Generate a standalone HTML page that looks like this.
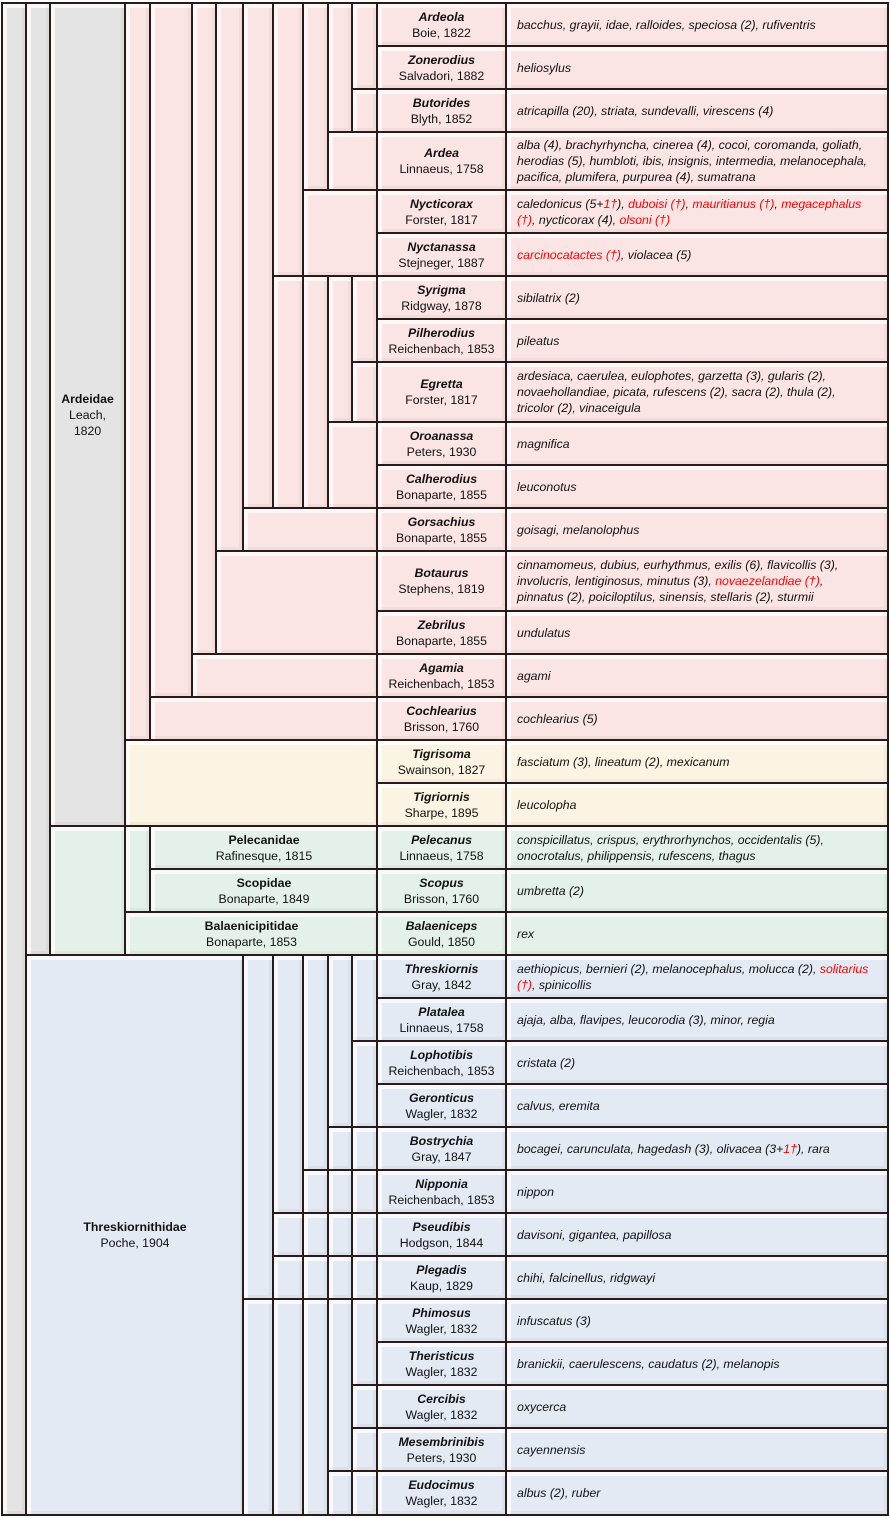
<!DOCTYPE html>
<html><head><meta charset="utf-8"><style>
body{margin:0;width:890px;height:1518px;background:#fff;position:relative;overflow:hidden;font-family:"Liberation Sans",sans-serif;}
.b{position:absolute;box-sizing:border-box;border:2px solid #2a1a1a;box-shadow:inset 4px 4px 0 rgba(255,255,255,.7),inset -3px -3px 0 rgba(0,0,0,.035);}
.g{background:#e4e4e4}.p{background:#fbe4e4}.c{background:#fcf4e2}.n{background:#e4f1e8}.l{background:#e3eaf3}
.t{display:flex;flex-direction:column;align-items:center;justify-content:center;text-align:center;font-size:12.3px;line-height:16px;color:#111}
.t i{font-weight:bold}
.s{display:flex;align-items:center;padding-left:10px;font-size:12.3px;line-height:16px;font-style:italic;color:#111;white-space:nowrap;letter-spacing:0}
.r{color:#f00}
</style></head><body>
<div class="b g" style="left:1px;top:2px;width:26px;height:1514px"></div>
<div class="b g" style="left:25px;top:2px;width:26px;height:954px"></div>
<div class="b g t" style="left:49px;top:2px;width:77px;height:825px"><b>Ardeidae</b><span>Leach,</span><span>1820</span></div>
<div class="b n" style="left:49px;top:825px;width:77px;height:131px"></div>
<div class="b p" style="left:124px;top:2px;width:27px;height:739px"></div>
<div class="b c" style="left:124px;top:739px;width:255px;height:88px"></div>
<div class="b p" style="left:149px;top:2px;width:44px;height:696px"></div>
<div class="b p" style="left:149px;top:696px;width:230px;height:45px"></div>
<div class="b p" style="left:191px;top:2px;width:26px;height:653px"></div>
<div class="b p" style="left:191px;top:653px;width:188px;height:45px"></div>
<div class="b p" style="left:215px;top:2px;width:29px;height:550px"></div>
<div class="b p" style="left:215px;top:550px;width:164px;height:105px"></div>
<div class="b p" style="left:242px;top:2px;width:32px;height:507px"></div>
<div class="b p" style="left:242px;top:507px;width:137px;height:45px"></div>
<div class="b p" style="left:272px;top:2px;width:32px;height:275px"></div>
<div class="b p" style="left:272px;top:275px;width:32px;height:234px"></div>
<div class="b p" style="left:302px;top:2px;width:27px;height:189px"></div>
<div class="b p" style="left:302px;top:189px;width:77px;height:88px"></div>
<div class="b p" style="left:302px;top:275px;width:27px;height:234px"></div>
<div class="b p" style="left:327px;top:2px;width:26px;height:131px"></div>
<div class="b p" style="left:327px;top:131px;width:52px;height:60px"></div>
<div class="b p" style="left:327px;top:275px;width:26px;height:148px"></div>
<div class="b p" style="left:327px;top:421px;width:52px;height:88px"></div>
<div class="b p" style="left:351px;top:2px;width:27px;height:88px"></div>
<div class="b p" style="left:351px;top:88px;width:27px;height:45px"></div>
<div class="b p" style="left:351px;top:275px;width:27px;height:88px"></div>
<div class="b p" style="left:351px;top:361px;width:27px;height:62px"></div>
<div class="b n" style="left:124px;top:825px;width:27px;height:88px"></div>
<div class="b n t" style="left:149px;top:825px;width:230px;height:45px"><b>Pelecanidae</b><span>Rafinesque, 1815</span></div>
<div class="b n t" style="left:149px;top:868px;width:230px;height:45px"><b>Scopidae</b><span>Bonaparte, 1849</span></div>
<div class="b n t" style="left:124px;top:911px;width:255px;height:45px"><b>Balaenicipitidae</b><span>Bonaparte, 1853</span></div>
<div class="b l t" style="left:25px;top:954px;width:220px;height:562px"><b>Threskiornithidae</b><span>Poche, 1904</span></div>
<div class="b l" style="left:242px;top:954px;width:32px;height:346px"></div>
<div class="b l" style="left:242px;top:1298px;width:32px;height:218px"></div>
<div class="b l" style="left:272px;top:954px;width:32px;height:260px"></div>
<div class="b l" style="left:272px;top:1212px;width:32px;height:45px"></div>
<div class="b l" style="left:272px;top:1255px;width:32px;height:45px"></div>
<div class="b l" style="left:272px;top:1298px;width:32px;height:218px"></div>
<div class="b l" style="left:302px;top:954px;width:27px;height:217px"></div>
<div class="b l" style="left:302px;top:1169px;width:27px;height:45px"></div>
<div class="b l" style="left:302px;top:1212px;width:27px;height:45px"></div>
<div class="b l" style="left:302px;top:1255px;width:27px;height:45px"></div>
<div class="b l" style="left:302px;top:1298px;width:27px;height:218px"></div>
<div class="b l" style="left:327px;top:954px;width:26px;height:174px"></div>
<div class="b l" style="left:327px;top:1126px;width:26px;height:45px"></div>
<div class="b l" style="left:327px;top:1169px;width:26px;height:45px"></div>
<div class="b l" style="left:327px;top:1212px;width:26px;height:45px"></div>
<div class="b l" style="left:327px;top:1255px;width:26px;height:45px"></div>
<div class="b l" style="left:327px;top:1298px;width:26px;height:174px"></div>
<div class="b l" style="left:327px;top:1470px;width:26px;height:46px"></div>
<div class="b l" style="left:351px;top:954px;width:27px;height:88px"></div>
<div class="b l" style="left:351px;top:1040px;width:27px;height:88px"></div>
<div class="b l" style="left:351px;top:1126px;width:27px;height:45px"></div>
<div class="b l" style="left:351px;top:1169px;width:27px;height:45px"></div>
<div class="b l" style="left:351px;top:1212px;width:27px;height:45px"></div>
<div class="b l" style="left:351px;top:1255px;width:27px;height:45px"></div>
<div class="b l" style="left:351px;top:1298px;width:27px;height:88px"></div>
<div class="b l" style="left:351px;top:1384px;width:27px;height:45px"></div>
<div class="b l" style="left:351px;top:1427px;width:27px;height:45px"></div>
<div class="b l" style="left:351px;top:1470px;width:27px;height:46px"></div>

<div class="b p t" style="left:376px;top:2px;width:131px;height:45px"><i>Ardeola</i><span>Boie, 1822</span></div>
<div class="b p s" style="left:505px;top:2px;width:384px;height:45px">bacchus, grayii, idae, ralloides, speciosa (2), rufiventris</div>
<div class="b p t" style="left:376px;top:45px;width:131px;height:45px"><i>Zonerodius</i><span>Salvadori, 1882</span></div>
<div class="b p s" style="left:505px;top:45px;width:384px;height:45px">heliosylus</div>
<div class="b p t" style="left:376px;top:88px;width:131px;height:45px"><i>Butorides</i><span>Blyth, 1852</span></div>
<div class="b p s" style="left:505px;top:88px;width:384px;height:45px">atricapilla (20), striata, sundevalli, virescens (4)</div>
<div class="b p t" style="left:376px;top:131px;width:131px;height:60px"><i>Ardea</i><span>Linnaeus, 1758</span></div>
<div class="b p s" style="left:505px;top:131px;width:384px;height:60px"><span>alba (4), brachyrhyncha, cinerea (4), cocoi, coromanda, goliath,<br>herodias (5), humbloti, ibis, insignis, intermedia, melanocephala,<br>pacifica, plumifera, purpurea (4), sumatrana</span></div>
<div class="b p t" style="left:376px;top:189px;width:131px;height:45px"><i>Nycticorax</i><span>Forster, 1817</span></div>
<div class="b p s" style="left:505px;top:189px;width:384px;height:45px"><span>caledonicus (5+<span class="r">1†</span>), <span class="r">duboisi (†)</span>, <span class="r">mauritianus (†)</span>, <span class="r">megacephalus</span><br><span class="r">(†)</span>, nycticorax (4), <span class="r">olsoni (†)</span></span></div>
<div class="b p t" style="left:376px;top:232px;width:131px;height:45px"><i>Nyctanassa</i><span>Stejneger, 1887</span></div>
<div class="b p s" style="left:505px;top:232px;width:384px;height:45px"><span><span class="r">carcinocatactes (†)</span>, violacea (5)</span></div>
<div class="b p t" style="left:376px;top:275px;width:131px;height:45px"><i>Syrigma</i><span>Ridgway, 1878</span></div>
<div class="b p s" style="left:505px;top:275px;width:384px;height:45px">sibilatrix (2)</div>
<div class="b p t" style="left:376px;top:318px;width:131px;height:45px"><i>Pilherodius</i><span>Reichenbach, 1853</span></div>
<div class="b p s" style="left:505px;top:318px;width:384px;height:45px">pileatus</div>
<div class="b p t" style="left:376px;top:361px;width:131px;height:62px"><i>Egretta</i><span>Forster, 1817</span></div>
<div class="b p s" style="left:505px;top:361px;width:384px;height:62px"><span>ardesiaca, caerulea, eulophotes, garzetta (3), gularis (2),<br>novaehollandiae, picata, rufescens (2), sacra (2), thula (2),<br>tricolor (2), vinaceigula</span></div>
<div class="b p t" style="left:376px;top:421px;width:131px;height:45px"><i>Oroanassa</i><span>Peters, 1930</span></div>
<div class="b p s" style="left:505px;top:421px;width:384px;height:45px">magnifica</div>
<div class="b p t" style="left:376px;top:464px;width:131px;height:45px"><i>Calherodius</i><span>Bonaparte, 1855</span></div>
<div class="b p s" style="left:505px;top:464px;width:384px;height:45px">leuconotus</div>
<div class="b p t" style="left:376px;top:507px;width:131px;height:45px"><i>Gorsachius</i><span>Bonaparte, 1855</span></div>
<div class="b p s" style="left:505px;top:507px;width:384px;height:45px">goisagi, melanolophus</div>
<div class="b p t" style="left:376px;top:550px;width:131px;height:62px"><i>Botaurus</i><span>Stephens, 1819</span></div>
<div class="b p s" style="left:505px;top:550px;width:384px;height:62px"><span>cinnamomeus, dubius, eurhythmus, exilis (6), flavicollis (3),<br>involucris, lentiginosus, minutus (3), <span class="r">novaezelandiae (†)</span>,<br>pinnatus (2), poiciloptilus, sinensis, stellaris (2), sturmii</span></div>
<div class="b p t" style="left:376px;top:610px;width:131px;height:45px"><i>Zebrilus</i><span>Bonaparte, 1855</span></div>
<div class="b p s" style="left:505px;top:610px;width:384px;height:45px">undulatus</div>
<div class="b p t" style="left:376px;top:653px;width:131px;height:45px"><i>Agamia</i><span>Reichenbach, 1853</span></div>
<div class="b p s" style="left:505px;top:653px;width:384px;height:45px">agami</div>
<div class="b p t" style="left:376px;top:696px;width:131px;height:45px"><i>Cochlearius</i><span>Brisson, 1760</span></div>
<div class="b p s" style="left:505px;top:696px;width:384px;height:45px">cochlearius (5)</div>
<div class="b c t" style="left:376px;top:739px;width:131px;height:45px"><i>Tigrisoma</i><span>Swainson, 1827</span></div>
<div class="b c s" style="left:505px;top:739px;width:384px;height:45px">fasciatum (3), lineatum (2), mexicanum</div>
<div class="b c t" style="left:376px;top:782px;width:131px;height:45px"><i>Tigriornis</i><span>Sharpe, 1895</span></div>
<div class="b c s" style="left:505px;top:782px;width:384px;height:45px">leucolopha</div>
<div class="b n t" style="left:376px;top:825px;width:131px;height:45px"><i>Pelecanus</i><span>Linnaeus, 1758</span></div>
<div class="b n s" style="left:505px;top:825px;width:384px;height:45px"><span>conspicillatus, crispus, erythrorhynchos, occidentalis (5),<br>onocrotalus, philippensis, rufescens, thagus</span></div>
<div class="b n t" style="left:376px;top:868px;width:131px;height:45px"><i>Scopus</i><span>Brisson, 1760</span></div>
<div class="b n s" style="left:505px;top:868px;width:384px;height:45px">umbretta (2)</div>
<div class="b n t" style="left:376px;top:911px;width:131px;height:45px"><i>Balaeniceps</i><span>Gould, 1850</span></div>
<div class="b n s" style="left:505px;top:911px;width:384px;height:45px">rex</div>
<div class="b l t" style="left:376px;top:954px;width:131px;height:45px"><i>Threskiornis</i><span>Gray, 1842</span></div>
<div class="b l s" style="left:505px;top:954px;width:384px;height:45px"><span>aethiopicus, bernieri (2), melanocephalus, molucca (2), <span class="r">solitarius</span><br><span class="r">(†)</span>, spinicollis</span></div>
<div class="b l t" style="left:376px;top:997px;width:131px;height:45px"><i>Platalea</i><span>Linnaeus, 1758</span></div>
<div class="b l s" style="left:505px;top:997px;width:384px;height:45px">ajaja, alba, flavipes, leucorodia (3), minor, regia</div>
<div class="b l t" style="left:376px;top:1040px;width:131px;height:45px"><i>Lophotibis</i><span>Reichenbach, 1853</span></div>
<div class="b l s" style="left:505px;top:1040px;width:384px;height:45px">cristata (2)</div>
<div class="b l t" style="left:376px;top:1083px;width:131px;height:45px"><i>Geronticus</i><span>Wagler, 1832</span></div>
<div class="b l s" style="left:505px;top:1083px;width:384px;height:45px">calvus, eremita</div>
<div class="b l t" style="left:376px;top:1126px;width:131px;height:45px"><i>Bostrychia</i><span>Gray, 1847</span></div>
<div class="b l s" style="left:505px;top:1126px;width:384px;height:45px"><span>bocagei, carunculata, hagedash (3), olivacea (3+<span class="r">1†</span>), rara</span></div>
<div class="b l t" style="left:376px;top:1169px;width:131px;height:45px"><i>Nipponia</i><span>Reichenbach, 1853</span></div>
<div class="b l s" style="left:505px;top:1169px;width:384px;height:45px">nippon</div>
<div class="b l t" style="left:376px;top:1212px;width:131px;height:45px"><i>Pseudibis</i><span>Hodgson, 1844</span></div>
<div class="b l s" style="left:505px;top:1212px;width:384px;height:45px">davisoni, gigantea, papillosa</div>
<div class="b l t" style="left:376px;top:1255px;width:131px;height:45px"><i>Plegadis</i><span>Kaup, 1829</span></div>
<div class="b l s" style="left:505px;top:1255px;width:384px;height:45px">chihi, falcinellus, ridgwayi</div>
<div class="b l t" style="left:376px;top:1298px;width:131px;height:45px"><i>Phimosus</i><span>Wagler, 1832</span></div>
<div class="b l s" style="left:505px;top:1298px;width:384px;height:45px">infuscatus (3)</div>
<div class="b l t" style="left:376px;top:1341px;width:131px;height:45px"><i>Theristicus</i><span>Wagler, 1832</span></div>
<div class="b l s" style="left:505px;top:1341px;width:384px;height:45px">branickii, caerulescens, caudatus (2), melanopis</div>
<div class="b l t" style="left:376px;top:1384px;width:131px;height:45px"><i>Cercibis</i><span>Wagler, 1832</span></div>
<div class="b l s" style="left:505px;top:1384px;width:384px;height:45px">oxycerca</div>
<div class="b l t" style="left:376px;top:1427px;width:131px;height:45px"><i>Mesembrinibis</i><span>Peters, 1930</span></div>
<div class="b l s" style="left:505px;top:1427px;width:384px;height:45px">cayennensis</div>
<div class="b l t" style="left:376px;top:1470px;width:131px;height:46px"><i>Eudocimus</i><span>Wagler, 1832</span></div>
<div class="b l s" style="left:505px;top:1470px;width:384px;height:46px">albus (2), ruber</div>
</body></html>
